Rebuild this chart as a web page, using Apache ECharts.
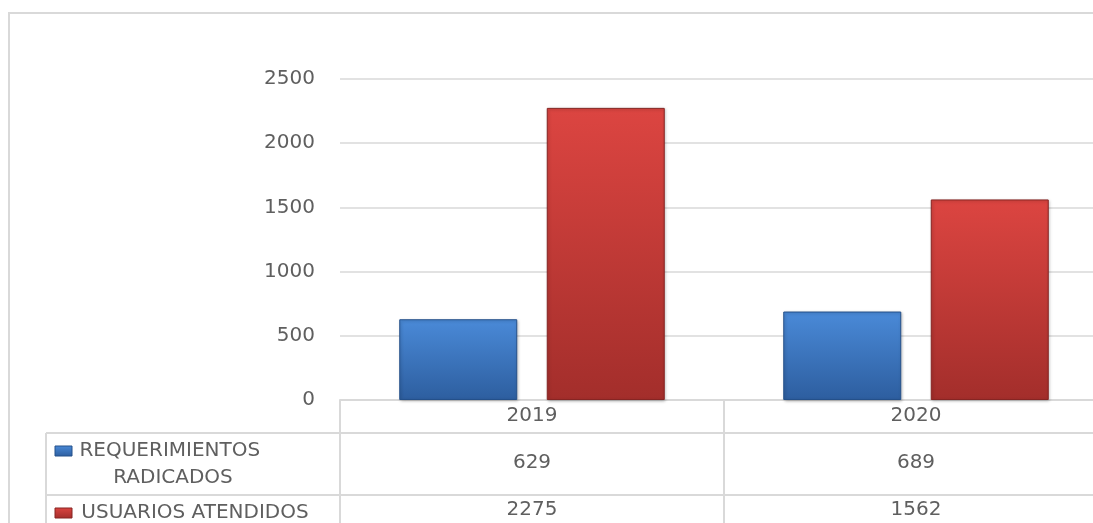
<!DOCTYPE html>
<html>
<head>
<meta charset="utf-8">
<script src="https://cdn.jsdelivr.net/npm/echarts@6/dist/echarts.min.js"></script>
<style>
  html, body { margin: 0; padding: 0; background: #fff; overflow: hidden; }
  /* the chart runs past the right edge of the window, as in the source image */
  #chart { width: 1120px; height: 523px; }
</style>
</head>
<body>
<div id="chart"></div>
<script>
// data
const years = ["2019", "2020"];
const seriesNames = ["REQUERIMIENTOS RADICADOS", "USUARIOS ATENDIDOS"];
const requerimientos = [629, 689];
const usuarios = [2275, 1562];
const yMin = 0;
const yMax = 2500;
const yStep = 500;

const FONT = "DejaVu Sans";
const TEXT = "#5f5f5f";
const LINE = "#d9d9d9";

const blueFill = new echarts.graphic.LinearGradient(0, 0, 0, 1, [
  { offset: 0, color: "#4a8ad8" },
  { offset: 1, color: "#2d5e9f" },
]);
const redFill = new echarts.graphic.LinearGradient(0, 0, 0, 1, [
  { offset: 0, color: "#dc4541" },
  { offset: 1, color: "#a32e2b" },
]);

const chart = echarts.init(document.getElementById("chart"));

// value rows of the data table are drawn as extra category axes under the grid
const tableAxis = (values, offset) => ({
  type: "category",
  data: values.map(String),
  position: "bottom",
  offset: offset,
  axisLine: { show: false },
  axisTick: { show: false },
  axisLabel: { fontFamily: FONT, fontSize: 20, color: TEXT, margin: 8 },
});

const option = {
  animation: false,
  grid: { left: 340, top: 79, width: 768, height: 321, containLabel: false },
  xAxis: [
    {
      type: "category",
      data: years,
      position: "bottom",
      axisLine: { show: true, lineStyle: { color: LINE, width: 2 } },
      axisTick: { show: true, length: 130, lineStyle: { color: LINE, width: 2 } },
      axisLabel: { fontFamily: FONT, fontSize: 20, color: TEXT, margin: 6 },
    },
    tableAxis(requerimientos, 45),
    tableAxis(usuarios, 92),
  ],
  yAxis: {
    type: "value",
    min: yMin,
    max: yMax,
    interval: yStep,
    axisLine: { show: false },
    axisTick: { show: false },
    splitLine: { lineStyle: { color: LINE, width: 1.5 } },
    axisLabel: {
      fontFamily: FONT,
      fontSize: 20,
      color: TEXT,
      margin: 25,
      formatter: (v) => String(v),
    },
  },
  series: [
    {
      name: seriesNames[0],
      type: "bar",
      xAxisIndex: 0,
      data: requerimientos,
      barWidth: 118,
      barGap: "25%",
      itemStyle: {
        color: blueFill,
        borderColor: "#24508a",
        borderWidth: 1,
        shadowColor: "rgba(0,0,0,0.25)",
        shadowBlur: 3,
        shadowOffsetX: 1,
        shadowOffsetY: 1,
      },
    },
    {
      name: seriesNames[1],
      type: "bar",
      xAxisIndex: 0,
      data: usuarios,
      barWidth: 118,
      itemStyle: {
        color: redFill,
        borderColor: "#862523",
        borderWidth: 1,
        shadowColor: "rgba(0,0,0,0.25)",
        shadowBlur: 3,
        shadowOffsetX: 1,
        shadowOffsetY: 1,
      },
    },
  ],
  graphic: [
    // chart area border
    {
      type: "rect",
      shape: { x: 9, y: 13, width: 1200, height: 600 },
      style: { fill: "none", stroke: LINE, lineWidth: 2 },
      silent: true,
    },
    // table row lines
    { type: "line", shape: { x1: 46, y1: 433, x2: 1120, y2: 433 }, style: { stroke: LINE, lineWidth: 2 } },
    { type: "line", shape: { x1: 46, y1: 495, x2: 1120, y2: 495 }, style: { stroke: LINE, lineWidth: 2 } },
    { type: "line", shape: { x1: 46, y1: 433, x2: 46, y2: 530 }, style: { stroke: LINE, lineWidth: 2 } },
    // row headers with legend keys
    {
      type: "rect",
      shape: { x: 55, y: 446, width: 17, height: 10 },
      style: { fill: blueFill, stroke: "#24508a", lineWidth: 1 },
    },
    {
      type: "text",
      x: 173,
      y: 464,
      style: {
        text: seriesNames[0],
        width: 230,
        overflow: "break",
        align: "center",
        verticalAlign: "middle",
        lineHeight: 27,
        fontFamily: FONT,
        fontSize: 20,
        fill: TEXT,
      },
    },
    {
      type: "rect",
      shape: { x: 55, y: 508, width: 17, height: 10 },
      style: { fill: redFill, stroke: "#862523", lineWidth: 1 },
    },
    {
      type: "text",
      x: 195,
      y: 513,
      style: {
        text: seriesNames[1],
        align: "center",
        verticalAlign: "middle",
        fontFamily: FONT,
        fontSize: 20,
        fill: TEXT,
      },
    },
  ],
};

chart.setOption(option);
</script>
</body>
</html>
